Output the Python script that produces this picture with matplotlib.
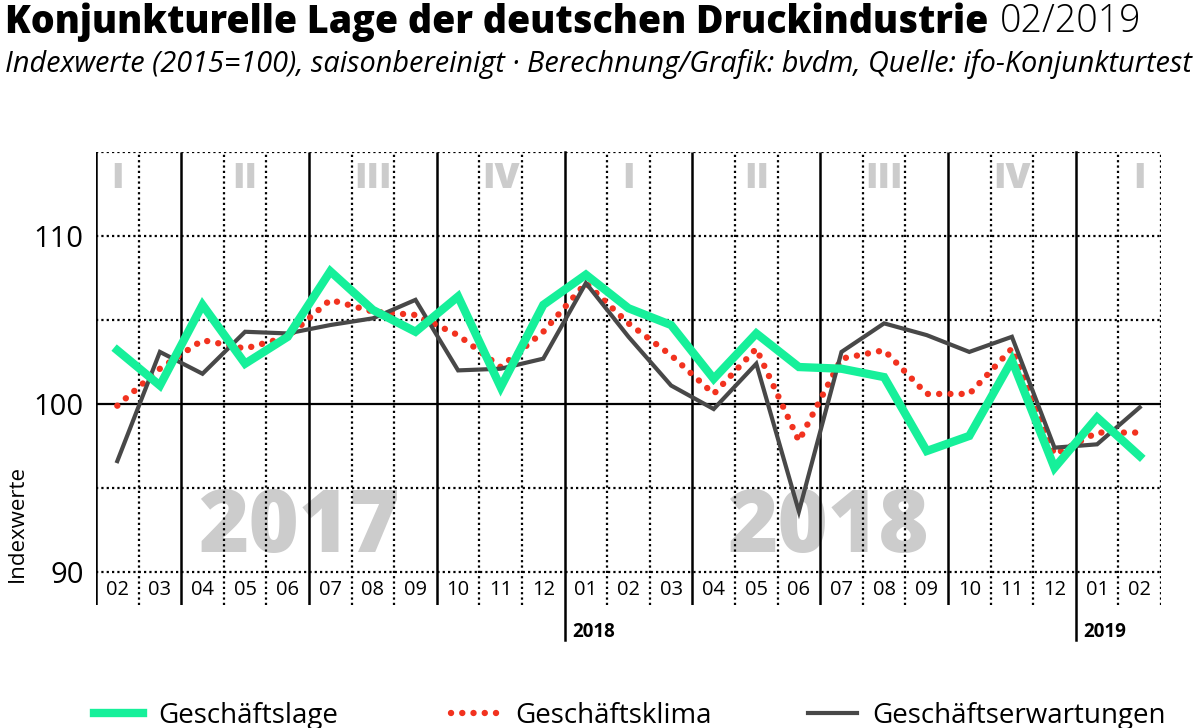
import matplotlib
matplotlib.use("Agg")
import matplotlib.pyplot as plt

plt.rcParams['font.family'] = ['Open Sans', 'DejaVu Sans']

# data: 02/2017 .. 02/2019, index 2015=100
months = ['02', '03', '04', '05', '06', '07', '08', '09', '10', '11', '12',
          '01', '02', '03', '04', '05', '06', '07', '08', '09', '10', '11', '12',
          '01', '02']
lage = [103.2, 101.1, 105.9, 102.4, 104.0, 107.9, 105.6, 104.3, 106.4, 101.0, 105.9,
        107.7, 105.7, 104.7, 101.5, 104.2, 102.2, 102.1, 101.6, 97.2, 98.1, 102.6, 96.2,
        99.2, 96.9]
klima = [99.9, 102.1, 103.8, 103.3, 104.0, 106.2, 105.5, 105.3, 104.1, 102.2, 104.3,
         107.2, 104.8, 102.9, 100.6, 103.3, 97.8, 102.7, 103.2, 100.6, 100.6, 103.3, 97.0,
         98.3, 98.3]
erwartungen = [96.6, 103.1, 101.8, 104.3, 104.2, 104.7, 105.1, 106.2, 102.0, 102.1, 102.7,
               107.2, 104.0, 101.1, 99.7, 102.4, 93.6, 103.1, 104.8, 104.1, 103.1, 104.0, 97.4,
               97.6, 99.8]
quarters = ['I', 'II', 'III', 'IV', 'I', 'II', 'III', 'IV', 'I']
years = ['2018', '2019']

GREEN = '#16f09a'
RED = '#f2321f'
GREY = '#484848'
WATER = '#cccccc'

fig = plt.figure(figsize=(12, 7.28), dpi=100)
ax = fig.add_axes([96/1200, 1-605/728, (1161-96)/1200, (605-152)/728])
ybot = 90 - 33/16.8
ax.set_xlim(-0.5, 24.5)
ax.set_ylim(ybot, 115)
for s in ax.spines.values():
    s.set_visible(False)
ax.set_xticks([])
ax.set_yticks([90, 100, 110])
ax.tick_params(axis='y', length=0, pad=9, labelsize=21)
ax.set_ylabel('Indexwerte', fontsize=16, labelpad=2)
ax.yaxis.set_label_coords(-0.064, 0.18)

n = len(months)
x = list(range(n))

# horizontal grid
ax.hlines([90, 95, 105, 110, 115], -0.5, 24.5, colors='black', lw=1.6,
          linestyles=(0, (1, 1.4)), zorder=1)
ax.hlines(100, -0.5, 24.5, colors='black', lw=1.6, zorder=1)

# vertical grid: solid at quarter boundaries, dotted otherwise
for c in range(n + 1):
    xb = c - 0.5
    m = int(months[c]) if c < n else 3
    if c == 0 or (c < n and m in (1, 4, 7, 10)):
        if m == 1:
            ax.plot([xb, xb], [90 - 68/16.8, 115], color='black', lw=1.8,
                    clip_on=False, zorder=1)
        else:
            ax.vlines(xb, ybot, 115, colors='black', lw=1.8, zorder=1)
    else:
        ax.vlines(xb, ybot, 115, colors='black', lw=1.6,
                  linestyles=(0, (1, 1.4)), zorder=1)

# month labels
for c in x:
    ax.text(c, 88.95, months[c], ha='center', va='center', fontsize=14.5)

# year labels below boundaries
yi = 0
for c in x:
    if months[c] == '01':
        ax.text(c - 0.33, 86.45, years[yi], ha='left', va='center', fontsize=13.5,
                fontweight='bold', clip_on=False)
        yi += 1

# quarter numerals, centred on middle month of each quarter
qi = 0
for c in x:
    if months[c] in ('02', '05', '08', '11'):
        ax.text(c, 113.4, quarters[qi], ha='center', va='center', fontsize=26,
                fontweight='heavy', color=WATER, zorder=0)
        qi += 1

# year watermarks
ax.text(4.27, 92.55, '2017', ha='center', va='center', fontsize=62,
        fontweight='heavy', color=WATER, zorder=0)
ax.text(16.67, 92.55, '2018', ha='center', va='center', fontsize=62,
        fontweight='heavy', color=WATER, zorder=0)

# series
l_klima, = ax.plot(x, klima, color=RED, lw=4.6, linestyle=(0, (0.01, 1.75)),
                   dash_capstyle='round', zorder=3, label='Geschäftsklima')
l_erw, = ax.plot(x, erwartungen, color=GREY, lw=3.0, zorder=4,
                 solid_joinstyle='miter', label='Geschäftserwartungen')
l_lage, = ax.plot(x, lage, color=GREEN, lw=6.0, zorder=5,
                  solid_joinstyle='miter', label='Geschäftslage')

# legend, three entries spread over the width
for h, xa in [(l_lage, 94), (l_klima, 451), (l_erw, 808)]:
    fig.legend([h], [h.get_label()], loc='center left',
               bbox_to_anchor=(xa/1200, 1-716/728), frameon=False, fontsize=20,
               handlelength=1.75, handletextpad=0.55, borderaxespad=0, borderpad=0)

# title
fig.canvas.draw()
r = fig.canvas.get_renderer()
t1 = fig.text(5/1200, 1-22/728, 'Konjunkturelle Lage der deutschen Druckindustrie',
              fontsize=27, fontweight='heavy', va='center', ha='left')
bb = t1.get_window_extent(renderer=r)
fig.text((bb.x1 + 12)/1200, 1-22/728, '02/2019', fontsize=27, fontweight='light',
         va='center', ha='left')
fig.text(5/1200, 1-64/728,
         'Indexwerte (2015=100), saisonbereinigt · Berechnung/Grafik: bvdm, Quelle: ifo-Konjunkturtest',
         fontsize=20.8, style='italic', va='center', ha='left')

fig.savefig('out.png', dpi=100)
